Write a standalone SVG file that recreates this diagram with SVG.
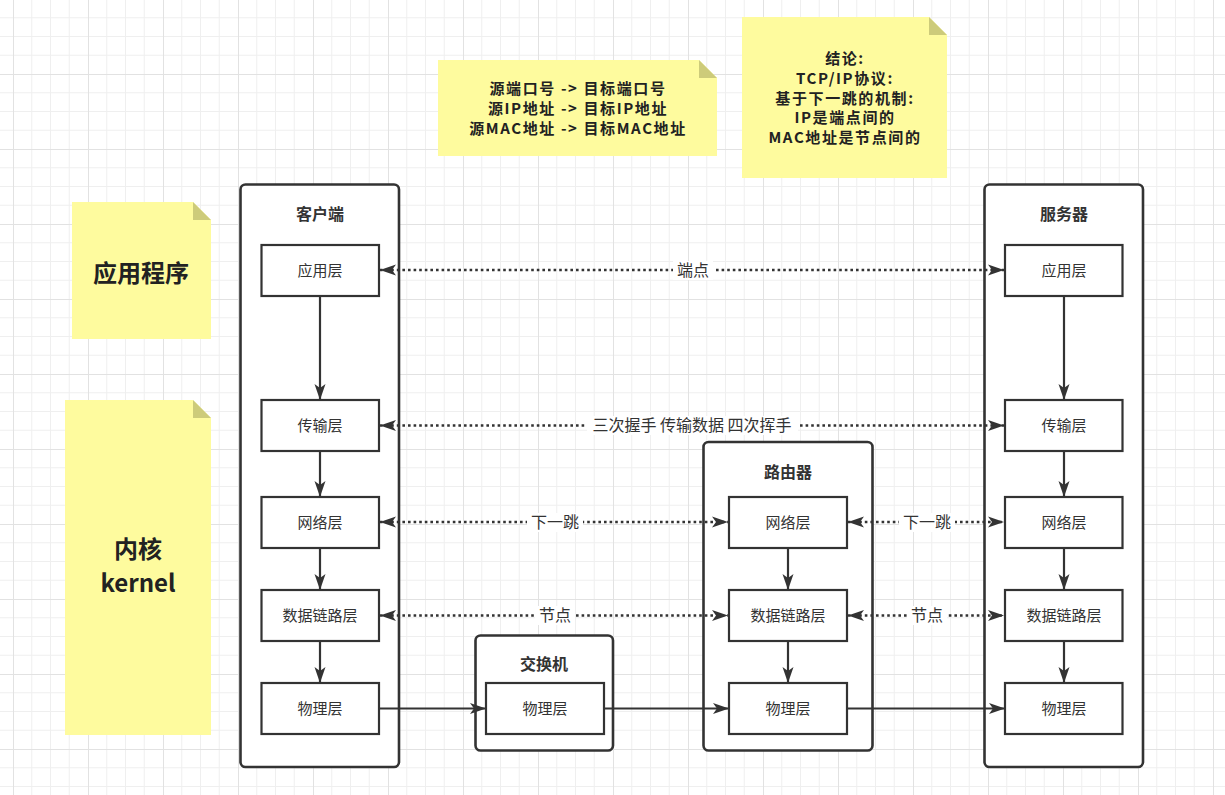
<svg xmlns="http://www.w3.org/2000/svg" width="1225" height="795" viewBox="0 0 1225 795">
<defs>
<pattern id="grid" patternUnits="userSpaceOnUse" x="13" y="-1" width="75" height="75">
<path d="M18.75 0V75M37.5 0V75M56.25 0V75M0 18.75H75M0 37.5H75M0 56.25H75" stroke="#efefef" stroke-width="1" fill="none"/>
<path d="M0.5 0V75M0 0.5H75" stroke="#e2e2e2" stroke-width="1" fill="none"/>
</pattern>
<marker id="ah" markerUnits="userSpaceOnUse" markerWidth="17" markerHeight="12" refX="16" refY="6" orient="auto-start-reverse" viewBox="0 0 17 12">
<path d="M0,0.5 L16,6 L0,11.5 L4,6 z" fill="#333"/>
</marker>
<style>
.cont{fill:#fff;stroke:#333;stroke-width:2.6}
.box{fill:#fff;stroke:#333;stroke-width:2.2}
.t{font-family:"Noto Sans CJK SC","Liberation Sans",sans-serif;font-size:15px;fill:#333;text-anchor:middle}
.tb{font-family:"Noto Sans CJK SC","Liberation Sans",sans-serif;font-size:16px;fill:#333;text-anchor:middle;font-weight:bold}
.nt{font-family:"Noto Sans CJK SC","Liberation Sans",sans-serif;font-size:15px;letter-spacing:1.6px;fill:#222;text-anchor:middle;font-weight:bold}
.big{font-family:"Noto Sans CJK SC","Liberation Sans",sans-serif;font-size:24px;fill:#222;text-anchor:middle;font-weight:bold}
.note{fill:#fefb9e}
.fold{fill:#cdcb7a}
.solid{stroke:#333;stroke-width:2.2;fill:none;marker-end:url(#ah)}
.dot{stroke:#333;stroke-width:2.6;fill:none;stroke-dasharray:2.6 3;marker-start:url(#ah);marker-end:url(#ah)}
.lbg{fill:#fff}
.lt{font-family:"Noto Sans CJK SC","Liberation Sans",sans-serif;font-size:16px;fill:#333;text-anchor:middle}
</style>
</defs>
<rect width="1225" height="795" fill="#fff"/>
<rect width="1225" height="795" fill="url(#grid)"/>

<g id="note-ports">
<path class="note" d="M438 60H699L717 78V156H438Z"/>
<path class="fold" d="M699 60V78H717Z"/>
<text class="nt" x="578" y="94">源端口号 -&gt; 目标端口号</text>
<text class="nt" x="578" y="114">源IP地址 -&gt; 目标IP地址</text>
<text class="nt" x="578" y="134">源MAC地址 -&gt; 目标MAC地址</text>
</g>

<g id="note-conclusion">
<path class="note" d="M742 17H929L947 35V178H742Z"/>
<path class="fold" d="M929 17V35H947Z"/>
<text class="nt" x="845" y="64">结论:</text>
<text class="nt" x="845" y="84">TCP/IP协议:</text>
<text class="nt" x="845" y="104">基于下一跳的机制:</text>
<text class="nt" x="845" y="123">IP是端点间的</text>
<text class="nt" x="845" y="143">MAC地址是节点间的</text>
</g>

<g id="note-app">
<path class="note" d="M72 202H193L211 220V339H72Z"/>
<path class="fold" d="M193 202V220H211Z"/>
<text class="big" x="141" y="282">应用程序</text>
</g>

<g id="note-kernel">
<path class="note" d="M65 400H193L211 418V735H65Z"/>
<path class="fold" d="M193 400V418H211Z"/>
<text class="big" x="138" y="558">内核</text>
<text class="big" x="138" y="592">kernel</text>
</g>

<g id="client">
<rect class="cont" x="240.5" y="184.5" width="158.5" height="582.5" rx="5"/>
<text class="tb" x="320" y="220">客户端</text>
</g>
<g id="server">
<rect class="cont" x="984.5" y="184.5" width="158.5" height="582.5" rx="5"/>
<text class="tb" x="1064" y="220">服务器</text>
</g>
<g id="router">
<rect class="cont" x="703.5" y="442" width="169" height="308.5" rx="5"/>
<text class="tb" x="788" y="478">路由器</text>
</g>
<g id="switch">
<rect class="cont" x="475.5" y="635.5" width="137.5" height="115" rx="5"/>
<text class="tb" x="544" y="670">交换机</text>
</g>

<g id="client-app"><rect class="box" x="261.5" y="245" width="117.5" height="51"/><text class="t" x="320" y="276">应用层</text></g>
<g id="client-transport"><rect class="box" x="261.5" y="400" width="117.5" height="51"/><text class="t" x="320" y="431">传输层</text></g>
<g id="client-network"><rect class="box" x="261.5" y="497" width="117.5" height="51"/><text class="t" x="320" y="528">网络层</text></g>
<g id="client-datalink"><rect class="box" x="261.5" y="590" width="117.5" height="51"/><text class="t" x="320" y="621">数据链路层</text></g>
<g id="client-physical"><rect class="box" x="261.5" y="683" width="117.5" height="51"/><text class="t" x="320" y="714">物理层</text></g>

<g id="server-app"><rect class="box" x="1005" y="245" width="117.5" height="51"/><text class="t" x="1064" y="276">应用层</text></g>
<g id="server-transport"><rect class="box" x="1005" y="400" width="117.5" height="51"/><text class="t" x="1064" y="431">传输层</text></g>
<g id="server-network"><rect class="box" x="1005" y="497" width="117.5" height="51"/><text class="t" x="1064" y="528">网络层</text></g>
<g id="server-datalink"><rect class="box" x="1005" y="590" width="117.5" height="51"/><text class="t" x="1064" y="621">数据链路层</text></g>
<g id="server-physical"><rect class="box" x="1005" y="683" width="117.5" height="51"/><text class="t" x="1064" y="714">物理层</text></g>

<g id="router-network"><rect class="box" x="729" y="497" width="118" height="51"/><text class="t" x="788" y="528">网络层</text></g>
<g id="router-datalink"><rect class="box" x="729" y="590" width="118" height="51"/><text class="t" x="788" y="621">数据链路层</text></g>
<g id="router-physical"><rect class="box" x="729" y="683" width="118" height="51"/><text class="t" x="788" y="714">物理层</text></g>

<g id="switch-physical"><rect class="box" x="486" y="683" width="118" height="51"/><text class="t" x="545" y="714">物理层</text></g>

<g id="connectors">
<path class="solid" d="M320 296V400"/>
<path class="solid" d="M320 451V497"/>
<path class="solid" d="M320 548V590"/>
<path class="solid" d="M320 641V683"/>
<path class="solid" d="M1064 296V400"/>
<path class="solid" d="M1064 451V497"/>
<path class="solid" d="M1064 548V590"/>
<path class="solid" d="M1064 641V683"/>
<path class="solid" d="M788 548V590"/>
<path class="solid" d="M788 641V683"/>
<path class="solid" d="M379 708.5H486"/>
<path class="solid" d="M604 708.5H729"/>
<path class="solid" d="M847 708.5H1005"/>

<path class="dot" d="M380 270H1004"/>
<rect class="lbg" x="673" y="261" width="40" height="19"/>
<text class="lt" x="693" y="276">端点</text>

<path class="dot" d="M380 425.5H1004"/>
<rect class="lbg" x="587" y="416" width="211" height="19"/>
<text class="lt" x="692" y="431">三次握手 传输数据 四次挥手</text>

<path class="dot" d="M380 522H728"/>
<rect class="lbg" x="527" y="513" width="56" height="19"/>
<text class="lt" x="555" y="528">下一跳</text>
<path class="dot" d="M848 522H1004"/>
<rect class="lbg" x="899" y="513" width="56" height="19"/>
<text class="lt" x="927" y="528">下一跳</text>

<path class="dot" d="M380 615.5H728"/>
<rect class="lbg" x="535" y="606" width="40" height="19"/>
<text class="lt" x="555" y="621">节点</text>
<path class="dot" d="M848 615.5H1004"/>
<rect class="lbg" x="907" y="606" width="40" height="19"/>
<text class="lt" x="927" y="621">节点</text>
</g>
</svg>
